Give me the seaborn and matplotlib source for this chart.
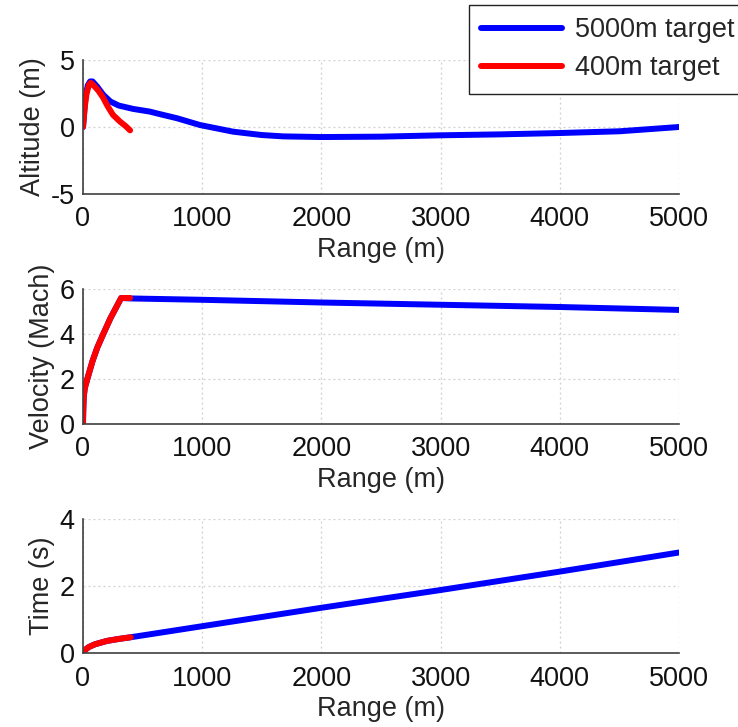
import numpy as np
import pandas as pd
import matplotlib
matplotlib.use("Agg")
import matplotlib.pyplot as plt
import seaborn as sns

# ---- data ----
alt_rng_5000 = [0, 20, 40, 60, 80, 120, 170, 230, 300, 420, 560, 650, 790, 980, 1260, 1500, 1680, 2000, 2500, 3000, 3500, 4000, 4500, 5000]
alt_5000 = [0, 2.2, 3.1, 3.4, 3.4, 3.0, 2.4, 1.9, 1.6, 1.35, 1.15, 0.95, 0.65, 0.15, -0.35, -0.6, -0.7, -0.75, -0.72, -0.62, -0.55, -0.45, -0.32, 0.0]
alt_rng_400 = [0, 15, 30, 50, 65, 90, 130, 168, 210, 252, 311, 360, 395]
alt_400 = [0, 1.5, 2.5, 3.15, 3.3, 3.1, 2.7, 2.2, 1.5, 0.9, 0.4, 0.05, -0.25]

vel_rng_5000 = [0, 2, 6, 15, 36, 80, 120, 170, 230, 280, 320, 400, 1000, 2000, 3000, 4000, 5000]
vel_5000 = [0, 0.6, 1.2, 1.6, 2.0, 2.8, 3.4, 4.0, 4.7, 5.2, 5.6, 5.58, 5.52, 5.4, 5.3, 5.2, 5.07]
vel_rng_400 = [0, 2, 6, 15, 36, 80, 120, 170, 230, 280, 320, 395]
vel_400 = [0, 0.6, 1.2, 1.6, 2.0, 2.8, 3.4, 4.0, 4.7, 5.2, 5.6, 5.6]

time_rng_5000 = [0, 20, 50, 100, 150, 200, 300, 400, 1000, 2000, 3000, 4000, 5000]
time_5000 = [0, 0.1, 0.18, 0.26, 0.31, 0.36, 0.42, 0.47, 0.8, 1.35, 1.88, 2.43, 3.0]
time_rng_400 = [0, 20, 50, 100, 150, 200, 300, 400]
time_400 = [0, 0.1, 0.18, 0.26, 0.31, 0.36, 0.42, 0.47]

labels = ["5000m target", "400m target"]
x_ticks = [0, 1000, 2000, 3000, 4000, 5000]
alt_ticks = [-5, 0, 5]
vel_ticks = [0, 2, 4, 6]
time_ticks = [0, 2, 4]

sns.set_style("white")
plt.rcParams['font.family'] = ['Liberation Sans', 'DejaVu Sans']
plt.rcParams['axes.unicode_minus'] = False

FS = 19.5
fig = plt.figure(figsize=(7.38, 7.27), dpi=100)
W, H = 738, 727
def add_ax(left, top, right, bottom):
    return fig.add_axes([left / W, 1 - bottom / H, (right - left) / W, (bottom - top) / H])

ax1 = add_ax(83, 60, 679, 194)
ax2 = add_ax(83, 289, 679, 424)
ax3 = add_ax(83, 519, 679, 653)

lw = 4.3
sns.lineplot(x=alt_rng_5000, y=alt_5000, ax=ax1, color="#0000ff", lw=lw, sort=False, estimator=None, label=labels[0])
sns.lineplot(x=alt_rng_400, y=alt_400, ax=ax1, color="#ff0000", lw=lw, sort=False, estimator=None, label=labels[1])
sns.lineplot(x=vel_rng_5000, y=vel_5000, ax=ax2, color="#0000ff", lw=lw, sort=False, estimator=None)
sns.lineplot(x=vel_rng_400, y=vel_400, ax=ax2, color="#ff0000", lw=lw, sort=False, estimator=None)
sns.lineplot(x=time_rng_5000, y=time_5000, ax=ax3, color="#0000ff", lw=lw, sort=False, estimator=None)
sns.lineplot(x=time_rng_400, y=time_400, ax=ax3, color="#ff0000", lw=lw, sort=False, estimator=None)

for ax, yt, yl in [(ax1, alt_ticks, "Altitude (m)"), (ax2, vel_ticks, "Velocity (Mach)"), (ax3, time_ticks, "Time (s)")]:
    ax.set_xlim(0, 5000)
    ax.set_ylim(yt[0], yt[-1])
    ax.set_xticks(x_ticks)
    ax.set_yticks(yt)
    ax.set_xlabel("Range (m)", fontsize=FS, labelpad=3)
    ax.set_ylabel(yl, fontsize=FS, labelpad=3)
    ax.grid(True, linestyle=(0, (1.5, 2.5)), color="#cfcfcf", lw=0.9)
    for s in ["top", "right"]:
        ax.spines[s].set_visible(False)
    for s in ["left", "bottom"]:
        ax.spines[s].set_color("#404040")
        ax.spines[s].set_linewidth(1.2)
    ax.tick_params(direction="in", length=4, width=1.0, color="#404040", labelsize=FS, labelcolor="#111111")
    ax.tick_params(axis="x", pad=9)
    ax.tick_params(axis="y", pad=6)
    if ax.get_legend() is not None:
        ax.get_legend().remove()

handles, labs = ax1.get_legend_handles_labels()
leg = fig.legend(handles, labs, loc="upper left", bbox_to_anchor=(469 / W, 1 - 5 / H),
                 borderaxespad=0, fancybox=False, edgecolor="#222222", fontsize=FS,
                 handlelength=3.0, handletextpad=0.45, borderpad=0.45, labelspacing=0.45,
                 framealpha=1)
leg.get_frame().set_linewidth(1.0)

fig.savefig("out.png", dpi=100)
